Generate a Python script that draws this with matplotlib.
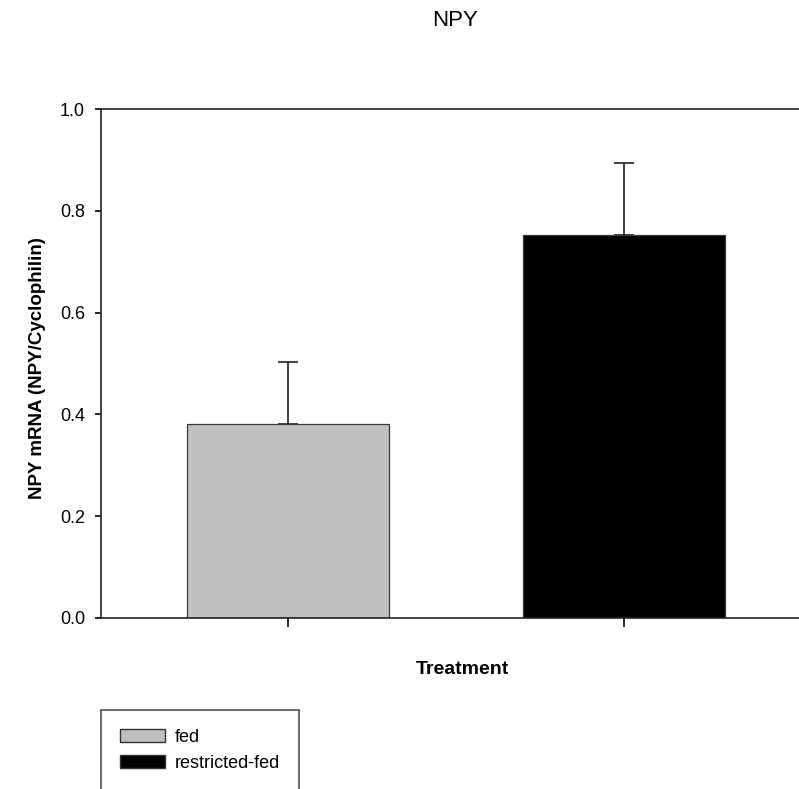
import matplotlib
matplotlib.use("Agg")
import matplotlib.pyplot as plt
from matplotlib.patches import Patch

plt.rcParams['font.family'] = ['Liberation Sans', 'DejaVu Sans']

groups = ["fed", "restricted-fed"]
means = [0.381, 0.752]
errors = [0.122, 0.142]
colors = ["#c0c0c0", "#000000"]
yticks = [0.0, 0.2, 0.4, 0.6, 0.8, 1.0]

W, H = 799, 789
fig = plt.figure(figsize=(W / 100, H / 100), dpi=100)
ax = fig.add_axes([101 / W, 1 - 618 / H, 710 / W, 509 / H])

x = [0, 1]
ax.bar(x, means, width=0.6, color=colors, edgecolor="#3a3a3a", linewidth=0.9, zorder=2)
ax.errorbar(x, means, yerr=[[0, 0], errors], fmt="none", ecolor="#222222",
            elinewidth=1.2, capsize=7, capthick=1.2, zorder=1)

ax.set_xlim(-0.5565, 1.5565)
ax.set_ylim(0, 1.0)
ax.set_yticks(yticks)
ax.set_yticklabels([f"{v:.1f}" for v in yticks], fontsize=13)
ax.set_xticks(x)
ax.set_xticklabels([])
ax.tick_params(axis="y", direction="out", length=4.5, width=1.2, pad=7)
ax.tick_params(axis="x", direction="out", length=6.5, width=1.2)
for s in ax.spines.values():
    s.set_linewidth(1.2)
    s.set_color("#222222")
ax.spines["right"].set_visible(False)

fig.text(38 / W, 1 - 368 / H, "NPY mRNA (NPY/Cyclophilin)", ha="center", va="center",
         rotation=90, fontsize=13.5, fontweight="bold")
fig.text(462 / W, 1 - 669 / H, "Treatment", ha="center", va="center",
         fontsize=14, fontweight="bold")
fig.text(455 / W, 1 - 20 / H, "NPY", ha="center", va="center", fontsize=16)

handles = [Patch(facecolor=c, edgecolor="#333333", linewidth=1) for c in colors]
leg = fig.legend(handles, groups, loc="upper left",
                 bbox_to_anchor=(101 / W, 1 - 710 / H), bbox_transform=fig.transFigure,
                 fontsize=13, handlelength=2.5, handleheight=0.72, handletextpad=0.55,
                 labelspacing=0.5, borderpad=1.05, borderaxespad=0,
                 fancybox=False, frameon=True)
leg.get_frame().set_edgecolor("#222222")
leg.get_frame().set_linewidth(1.2)

fig.savefig("out.png", dpi=100)
